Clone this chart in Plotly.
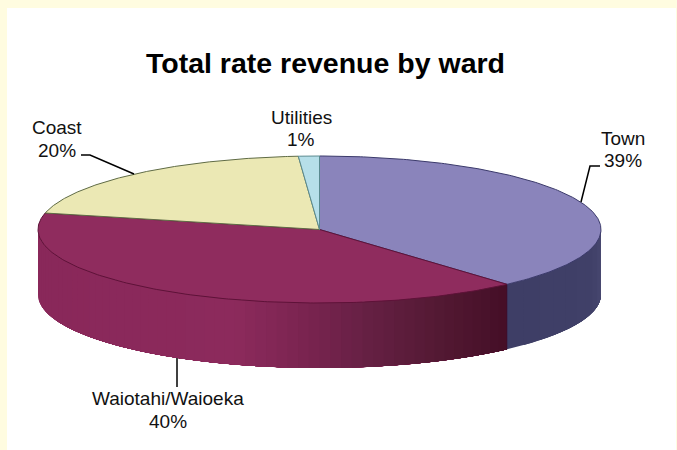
import numpy as np
import plotly.graph_objects as go

wards = ["Town", "Waiotahi/Waioeka", "Coast", "Utilities"]
percent_labels = ["39%", "40%", "20%", "1%"]
# Shares as read from the slice boundaries on the drawn pie
shares = [38.4, 40.2, 20.2, 1.2]
top_colors = ["#8a84bb", "#8f2c5e", "#ebe8b4", "#b6dfe9"]
edge_colors = ["#3b3a6b", "#5e1238", "#5f6b45", "#5a8a90"]

CX, CY, A, B, DEPTH = 319.5, 229.5, 281.5, 73.5, 65

def ell(theta):
    return CX + A * np.sin(theta), CY - B * np.cos(theta)

def lerp_color(stops, x):
    xs = [s[0] for s in stops]
    rgb = [np.interp(x, xs, [s[1][i] for s in stops]) for i in range(3)]
    return "rgb(%d,%d,%d)" % tuple(int(round(v)) for v in rgb)

WAIO_STOPS = [(38, (137, 40, 90)), (230, (140, 42, 92)), (300, (122, 36, 80)),
              (360, (102, 32, 68)), (440, (82, 24, 50)), (507, (68, 14, 38))]
TOWN_STOPS = [(507, (62, 62, 102)), (590, (64, 64, 104)), (601, (72, 72, 112))]

fig = go.Figure()

def poly(xs, ys, fill, line=None, width=0.6):
    fig.add_trace(go.Scatter(x=xs, y=ys, mode="lines", fill="toself", fillcolor=fill,
                             line=dict(color=line or fill, width=width),
                             hoverinfo="skip", showlegend=False))

def polyline(xs, ys, color, width):
    fig.add_trace(go.Scatter(x=xs, y=ys, mode="lines", line=dict(color=color, width=width),
                             hoverinfo="skip", showlegend=False))

edges = np.cumsum([0] + shares) / sum(shares) * 2 * np.pi

# side wall: each strip runs to the far end of the wall and is overpainted by the next
for idx, stops, n in [(1, WAIO_STOPS, 60), (0, TOWN_STOPS, 10)]:
    t0 = max(edges[idx], np.pi / 2)
    t1 = min(edges[idx + 1], 3 * np.pi / 2)
    ts = np.linspace(t0, t1, n + 1)
    for a0 in ts[1:][::-1]:
        t = np.linspace(t0, a0, 120)
        x, y = ell(t)
        xs = np.concatenate([x, x[::-1], x[:1]])
        ys = np.concatenate([y, y[::-1] + DEPTH, y[:1]])
        poly(xs, ys, lerp_color(stops, float(x[-1])), width=0)

# top face
for i in range(4):
    t = np.linspace(edges[i], edges[i + 1], 200)
    x, y = ell(t)
    poly(np.concatenate([[CX], x, [CX]]), np.concatenate([[CY], y, [CY]]),
         top_colors[i], edge_colors[i], 1)

# rim of the wall at the Town/Waiotahi border
bx, by = ell(edges[1])
polyline([bx, bx], [by, by + DEPTH], "#3a1030", 0.6)

# leader lines
polyline([81, 90, 134], [155, 155, 174], "#000000", 1.5)
polyline([581, 590, 600], [202, 166, 166], "#000000", 1.5)
polyline([177, 177], [358, 387], "#000000", 1.5)

label_pos = [(623, 138, 160), (168, 398, 421), (57, 127, 150), (301, 117, 139)]
font = dict(family="Liberation Sans", size=19, color="#111111")
annotations = []
for w, p, (px, py1, py2) in zip(wards, percent_labels, label_pos):
    annotations.append(dict(x=px, y=py1, xref="x", yref="y", text=w, showarrow=False, font=font))
    annotations.append(dict(x=px, y=py2, xref="x", yref="y", text=p, showarrow=False, font=font))

fig.update_layout(
    width=677, height=450,
    margin=dict(l=0, r=0, t=0, b=0),
    paper_bgcolor="#fffce0",
    plot_bgcolor="#fffce0",
    showlegend=False,
    autosize=False,
    title=dict(text="<b>Total rate revenue by ward</b>", x=325.5 / 677, xanchor="center",
               y=1 - 63 / 450, yanchor="middle",
               font=dict(family="Liberation Sans", size=28.5, color="#000000")),
    xaxis=dict(range=[0, 677], visible=False, fixedrange=True),
    yaxis=dict(range=[450, 0], visible=False, fixedrange=True),
    shapes=[dict(type="rect", layer="below", x0=7, x1=676, y0=8, y1=450, xref="x", yref="y",
                 fillcolor="#ffffff", line=dict(width=0))],
    annotations=annotations,
)
fig.write_html("out.html", config=dict(displayModeBar=False),
               post_script="document.body.style.margin='0';document.documentElement.style.overflow='hidden';")
